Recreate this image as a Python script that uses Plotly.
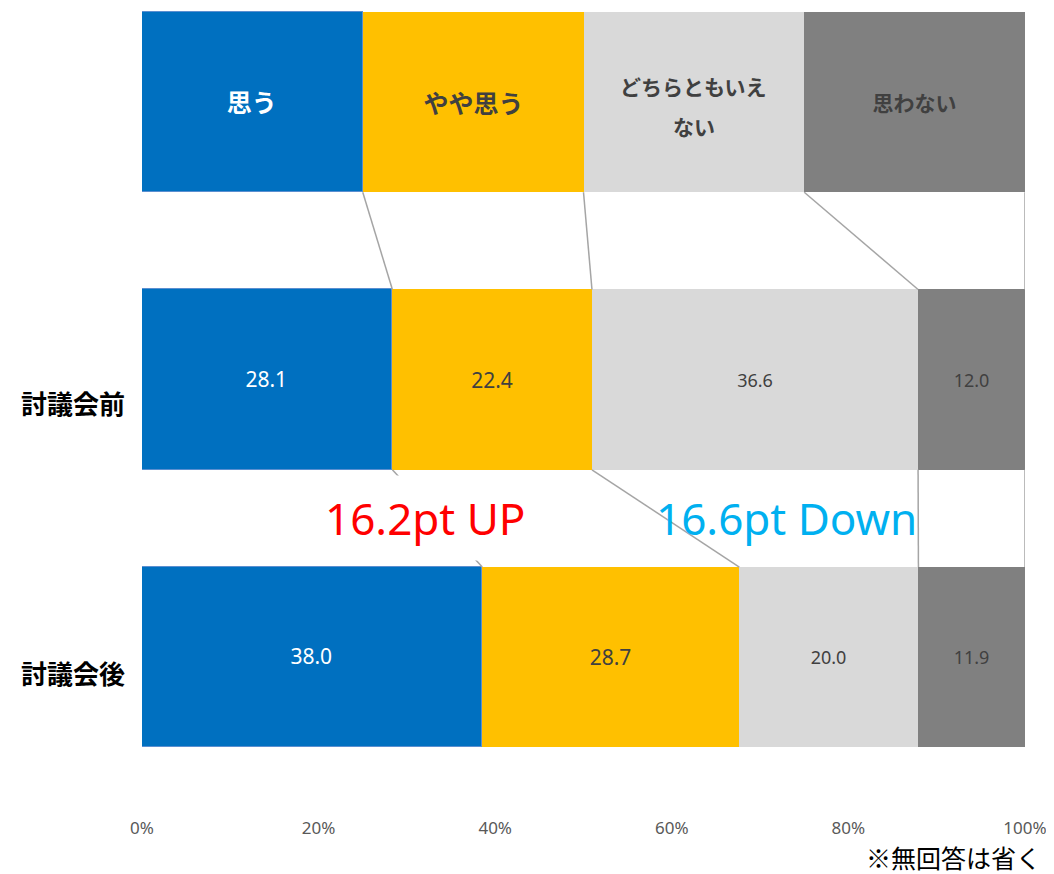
import plotly.graph_objects as go

# ---- data ----
categories = ["思う", "やや思う", "どちらともいえない", "思わない"]
legend_lines = [["思う"], ["やや思う"], ["どちらともいえ", "ない"], ["思わない"]]
rows = ["討議会後", "討議会前"]          # bottom -> top
before = [28.1, 22.4, 36.6, 12.0]         # 討議会前
after = [38.0, 28.7, 20.0, 11.9]          # 討議会後
legend_share = [25, 25, 25, 25]           # legend row (equal widths)
tick_vals = [0, 20, 40, 60, 80, 100]
tick_text = ["0%", "20%", "40%", "60%", "80%", "100%"]
up_label = "16.2pt UP"
down_label = "16.6pt Down"
note = "※無回答は省く"

colors = ["#0070C0", "#FFC000", "#D9D9D9", "#808080"]
big_txt = ["#FFFFFF", "#404040", "#404040", "#404040"]
num_sizes = [21, 21, 18, 18]
leg_sizes = [25, 25, 21, 21]
leg_colors = ["#FFFFFF", "#404040", "#404040", "#404040"]

Y_AFTER, Y_BEFORE, Y_LEG = 0, 1, 2
BW = 0.65
FONT = "Noto Sans, Noto Sans CJK JP"

fig = go.Figure()

for i, cat in enumerate(categories):
    line = dict(color="#5B8FD0", width=1.5) if i == 0 else dict(width=0)
    single = len(legend_lines[i]) == 1
    # legend row
    fig.add_trace(go.Bar(
        orientation="h", y=[Y_LEG], x=[legend_share[i]], width=BW,
        marker=dict(color=colors[i], line=line),
        text=[f"<b>{legend_lines[i][0]}</b>" if single else ""],
        textposition="inside", insidetextanchor="middle",
        textangle=0, constraintext="none",
        textfont=dict(size=leg_sizes[i], color=leg_colors[i], family="Noto Sans CJK JP"),
        hoverinfo="skip", showlegend=False, name=cat))
    # data rows
    fig.add_trace(go.Bar(
        orientation="h", y=[Y_AFTER, Y_BEFORE], x=[after[i], before[i]], width=BW,
        marker=dict(color=colors[i], line=line),
        text=[f"{after[i]:.1f}", f"{before[i]:.1f}"], textposition="inside",
        insidetextanchor="middle", textangle=0, constraintext="none",
        textfont=dict(size=num_sizes[i], color=big_txt[i], family=FONT),
        hoverinfo="skip", showlegend=False, name=cat))

# connector lines between rows (cumulative shares)
def cum_share(vals):
    tot = sum(vals)
    out, s = [], 0
    for v in vals:
        s += v
        out.append(s / tot * 100)
    return out

leg_c, bef_c, aft_c = cum_share(legend_share), cum_share(before), cum_share(after)
xs, ys = [], []
for k in range(len(categories)):
    xs += [leg_c[k], bef_c[k], None, bef_c[k], aft_c[k], None]
    ys += [Y_LEG - BW / 2, Y_BEFORE + BW / 2, None, Y_BEFORE - BW / 2, Y_AFTER + BW / 2, None]
fig.add_trace(go.Scatter(x=xs, y=ys, mode="lines", line=dict(color="#A5A5A5", width=1.5),
                         hoverinfo="skip", showlegend=False))

annotations = []
# two-line legend labels with wider line spacing
for i, lines in enumerate(legend_lines):
    if len(lines) > 1:
        cx = leg_c[i] - legend_share[i] / sum(legend_share) * 100 / 2
        shifts = [16, -24]
        for ln, ys_ in zip(lines, shifts):
            annotations.append(dict(
                x=cx, y=Y_LEG, xref="x", yref="y", text=f"<b>{ln}</b>", showarrow=False,
                yshift=ys_, font=dict(size=leg_sizes[i], color=leg_colors[i],
                                       family="Noto Sans CJK JP")))

annotations += [
    dict(x=32.0, y=0.5, xref="x", yref="y", text=up_label, showarrow=False,
         font=dict(size=44, color="#FF0000", family=FONT), bgcolor="#FFFFFF", borderpad=12),
    dict(x=73.0, y=0.5, xref="x", yref="y", text=down_label, showarrow=False,
         font=dict(size=44, color="#00B0F0", family=FONT)),
    dict(x=0, y=Y_BEFORE, xref="paper", yref="y", text="<b>" + rows[1] + "</b>", showarrow=False,
         xanchor="right", xshift=-15, yshift=-23,
         font=dict(size=26, color="#000000", family="Noto Sans CJK JP")),
    dict(x=0, y=Y_AFTER, xref="paper", yref="y", text="<b>" + rows[0] + "</b>", showarrow=False,
         xanchor="right", xshift=-15, yshift=-15,
         font=dict(size=26, color="#000000", family="Noto Sans CJK JP")),
    dict(x=1, y=0, xref="paper", yref="paper", text=note, showarrow=False,
         xanchor="right", yanchor="middle", xshift=18, yshift=-61,
         font=dict(size=25, color="#000000", family="Noto Sans CJK JP")),
]

fig.update_layout(
    width=1054, height=874,
    margin=dict(l=134, r=37, t=0, b=86),
    barmode="stack", barnorm="percent", bargap=0,
    plot_bgcolor="#FFFFFF", paper_bgcolor="#FFFFFF",
    font=dict(family=FONT),
    annotations=annotations,
    xaxis=dict(range=[0, 100], tickvals=tick_vals, ticktext=tick_text,
               showgrid=False, zeroline=False, showline=False, ticks="",
               ticklabelstandoff=20, tickfont=dict(size=17, color="#595959")),
    yaxis=dict(range=[-0.5, 2.339], showticklabels=False, showgrid=False,
               zeroline=False, showline=False, ticks=""),
)

fig.write_html("out.html")
